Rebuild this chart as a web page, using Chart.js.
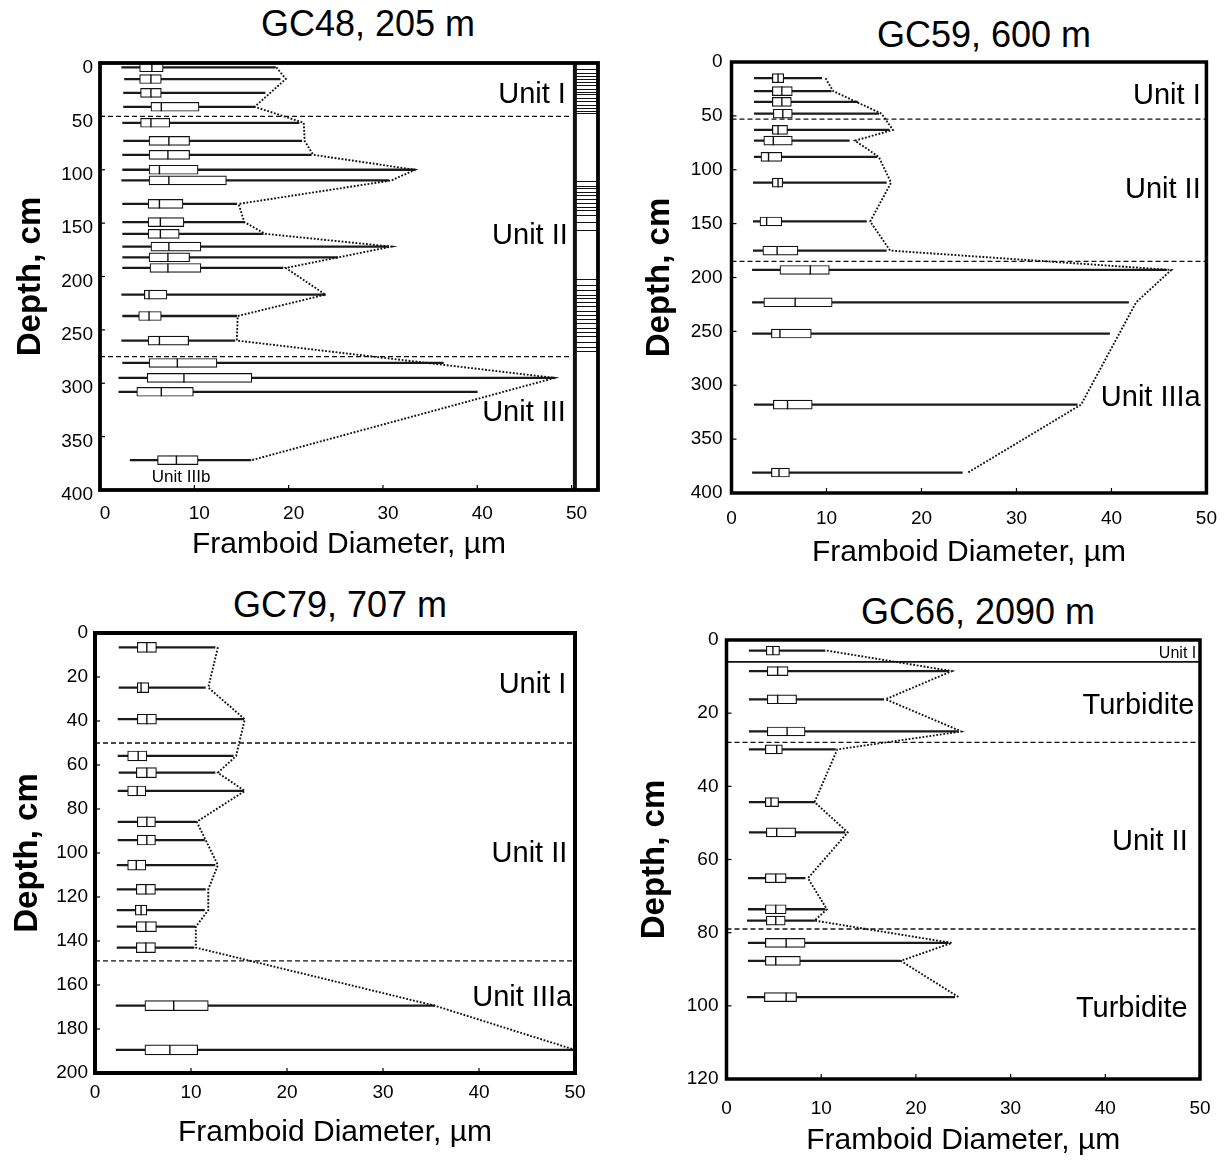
<!DOCTYPE html>
<html>
<head>
<meta charset="utf-8">
<script src="https://cdn.jsdelivr.net/npm/chart.js@4.4.1/dist/chart.umd.min.js"></script>
<style>
  body { margin: 0; background: #fff; width: 1231px; height: 1160px; position: relative; overflow: hidden;
         font-family: "Liberation Sans", Arial, sans-serif; }
  canvas { position: absolute; }
  .ttl { position: absolute; font-size: 36px; line-height: 36px; transform: translate(-50%, -50%);
         white-space: nowrap; color: #000; }
</style>
</head>
<body>
<div class="ttl" style="left:368px;top:24px">GC48, 205 m</div>
<div class="ttl" style="left:984px;top:35px">GC59, 600 m</div>
<div class="ttl" style="left:340px;top:605px">GC79, 707 m</div>
<div class="ttl" style="left:978px;top:612px">GC66, 2090 m</div>

<canvas id="gc48" width="615" height="575" style="left:0;top:0"></canvas>
<canvas id="gc59" width="611" height="575" style="left:620px;top:0"></canvas>
<canvas id="gc79" width="615" height="580" style="left:0;top:580px"></canvas>
<canvas id="gc66" width="611" height="580" style="left:620px;top:580px"></canvas>

<script>
// framboid diameter ticks, shared by all panels
const diamTicks = [0, 10, 20, 30, 40, 50];

// GC48, 205 m
const gc48Depth  = [4, 15, 28, 41, 56, 73, 86, 100, 110, 132, 149, 160, 172, 182, 192, 217, 237, 260, 281, 295, 308, 372];
const gc48Low    = [2.3, 2.6, 2.5, 2.5, 2.4, 2.5, 2.4, 2.4, 2.3, 2.4, 2.4, 2.4, 2.4, 2.4, 2.4, 2.3, 2.4, 2.3, 2.4, 2.0, 2.0, 3.2];
const gc48Q1     = [4.2, 4.2, 4.3, 5.4, 4.3, 5.2, 5.2, 5.2, 5.2, 5.1, 5.1, 5.1, 5.4, 5.2, 5.3, 4.7, 4.1, 5.1, 5.2, 5.0, 3.9, 6.1];
const gc48Median = [5.5, 5.4, 5.4, 6.5, 5.4, 7.3, 7.2, 6.3, 7.3, 6.3, 6.4, 6.4, 7.3, 7.2, 7.2, 5.2, 5.2, 6.3, 8.2, 8.9, 6.5, 8.1];
const gc48Q3     = [6.7, 6.5, 6.5, 10.5, 7.4, 9.5, 9.5, 10.4, 13.4, 8.8, 8.9, 8.4, 10.7, 9.5, 10.7, 7.1, 6.5, 9.4, 12.4, 16.1, 9.9, 10.4];
const gc48High   = [18.6, 19.1, 17.5, 16.4, 21.1, 21.4, 22.4, 33.4, 30.6, 14.5, 15.3, 17.3, 30.6, 25.2, 19.4, 23.9, 14.5, 14.3, 36.4, 48.2, 40.0, 16.0];
const gc48MaxDepth = [4, 15, 41, 56, 73, 86, 100, 110, 132, 149, 160, 172, 192, 217, 237, 260, 295, 372];
const gc48MaxVal   = [18.7, 19.7, 16.4, 21.6, 21.7, 22.6, 33.4, 30.9, 14.7, 15.3, 17.5, 30.9, 19.7, 23.9, 14.6, 14.5, 48.2, 16.1];
const gc48Units    = [50, 275];
const gc48Laminae  = [6, 9, 12, 15, 18, 21, 24, 27, 29, 33, 36, 39, 42, 45, 47,
                      111, 115, 117, 121, 124, 127, 131, 135, 138, 142, 149, 156,
                      202, 208, 213, 217, 220, 224, 228, 232, 236, 240, 244, 248, 252, 256, 261, 266, 270];
const gc48DepthTicks = [0, 50, 100, 150, 200, 250, 300, 350, 400];

// GC59, 600 m
const gc59Depth  = [15, 27, 37, 48, 63, 73, 88, 112, 148, 175, 193, 223, 252, 318, 381];
const gc59Low    = [2.4, 2.4, 2.4, 2.4, 2.4, 2.4, 2.4, 2.3, 2.3, 2.3, 2.2, 2.2, 2.2, 2.4, 2.2];
const gc59Q1     = [4.3, 4.3, 4.3, 4.4, 4.3, 3.4, 3.1, 4.3, 3.0, 3.3, 5.1, 3.4, 4.2, 4.4, 4.2];
const gc59Median = [4.9, 5.3, 5.3, 5.4, 4.9, 4.4, 3.9, 4.9, 3.7, 4.8, 8.3, 6.7, 5.1, 5.9, 5.0];
const gc59Q3     = [5.5, 6.4, 6.3, 6.4, 5.9, 6.4, 5.3, 5.4, 5.3, 7.0, 10.3, 10.6, 8.4, 8.5, 6.1];
const gc59High   = [9.5, 10.5, 13.3, 15.5, 16.6, 12.4, 15.3, 16.3, 14.2, 16.3, 45.8, 41.8, 39.8, 36.4, 24.3];
const gc59MaxDepth = [15, 27, 48, 63, 73, 88, 112, 148, 175, 193, 223, 318, 381];
const gc59MaxVal   = [9.9, 10.7, 15.8, 17.0, 13.0, 15.5, 16.8, 14.6, 16.7, 46.3, 42.6, 36.8, 24.9];
const gc59Units    = [53, 185];
const gc59DepthTicks = [0, 50, 100, 150, 200, 250, 300, 350, 400];

// GC79, 707 m
const gc79Depth  = [6.5, 24.8, 39.2, 55.9, 63.5, 71.8, 85.8, 94.1, 105.5, 116.5, 126, 133.5, 143, 169.4, 189.5];
const gc79Low    = [2.5, 2.5, 2.4, 2.4, 2.5, 2.4, 2.4, 2.4, 2.3, 2.3, 2.3, 2.3, 2.3, 2.2, 2.2];
const gc79Q1     = [4.4, 4.4, 4.4, 3.4, 4.3, 3.4, 4.4, 4.4, 3.4, 4.3, 4.2, 4.3, 4.3, 5.2, 5.2];
const gc79Median = [5.4, 4.8, 5.4, 4.5, 5.4, 4.4, 5.4, 5.4, 4.3, 5.3, 4.8, 5.3, 5.3, 8.2, 7.8];
const gc79Q3     = [6.4, 5.6, 6.4, 5.4, 6.4, 5.3, 6.3, 6.3, 5.3, 6.3, 5.4, 6.4, 6.3, 11.8, 10.7];
const gc79High   = [12.5, 11.5, 15.5, 14.4, 12.5, 15.5, 10.5, 11.4, 12.5, 11.5, 11.4, 10.4, 10.3, 35.4, 49.9];
const gc79MaxDepth = [6.5, 24.8, 39.2, 55.9, 63.5, 71.8, 85.8, 105.5, 116.5, 126, 133.5, 143, 169.4, 189.5];
const gc79MaxVal   = [12.8, 11.8, 15.6, 14.7, 12.8, 15.6, 10.6, 12.8, 11.8, 11.8, 10.5, 10.5, 35.4, 50];
const gc79Units    = [50, 149];
const gc79DepthTicks = [0, 20, 40, 60, 80, 100, 120, 140, 160, 180, 200];

// GC66, 2090 m
const gc66Depth  = [2.9, 8.5, 16.2, 25, 29.9, 44.3, 52.6, 65.1, 73.6, 76.7, 82.8, 87.7, 97.6];
const gc66Low    = [2.4, 2.4, 2.4, 2.4, 2.4, 2.4, 2.4, 2.3, 2.3, 2.2, 2.3, 2.3, 2.2];
const gc66Q1     = [4.2, 4.3, 4.3, 4.3, 4.1, 4.1, 4.2, 4.1, 4.1, 4.2, 4.1, 4.1, 4.0];
const gc66Median = [4.9, 5.4, 5.4, 6.4, 5.3, 4.7, 5.3, 5.2, 5.2, 5.2, 6.3, 5.2, 6.3];
const gc66Q3     = [5.6, 6.5, 7.4, 8.3, 5.9, 5.5, 7.3, 6.3, 6.3, 6.2, 8.3, 7.8, 7.4];
const gc66High   = [10.4, 23.4, 16.6, 24.3, 11.5, 9.3, 12.5, 8.3, 10.4, 9.3, 23.4, 18.3, 24.1];
const gc66MaxDepth = gc66Depth;
const gc66MaxVal   = [10.6, 23.8, 16.8, 24.8, 11.7, 9.3, 12.8, 8.6, 10.6, 9.3, 23.8, 18.4, 24.5];
const gc66Units    = [28, 79];
const gc66Solid    = [6];
const gc66DepthTicks = [0, 20, 40, 60, 80, 100, 120];

const FONT = '"Liberation Sans", Arial, sans-serif';
const INK = '#111';

// frame, inward ticks, unit labels and the lamination strip of GC48
const panelDecor = {
  id: 'panelDecor',
  afterDatasetsDraw(chart, args, opts) {
    const { ctx, chartArea: a, scales: { x, y } } = chart;
    ctx.save();

    if (opts.laminae) {
      const sx = x.getPixelForValue(opts.stripFrom);
      ctx.strokeStyle = INK;
      ctx.lineWidth = 1;
      opts.laminae.forEach(d => {
        const py = Math.round(y.getPixelForValue(d)) + 0.5;
        ctx.beginPath(); ctx.moveTo(sx, py); ctx.lineTo(a.right, py); ctx.stroke();
      });
      ctx.lineWidth = 4;
      ctx.beginPath(); ctx.moveTo(sx, a.top); ctx.lineTo(sx, a.bottom); ctx.stroke();
    }

    ctx.fillStyle = '#000';
    ctx.textBaseline = 'middle';
    (opts.notes || []).forEach(n => {
      ctx.font = n.size + 'px ' + FONT;
      ctx.textAlign = n.align || 'right';
      ctx.fillText(n.text, x.getPixelForValue(n.x), y.getPixelForValue(n.y));
    });

    ctx.strokeStyle = '#000';
    ctx.lineWidth = 1.2;
    x.ticks.forEach(t => {
      const px = x.getPixelForValue(t.value);
      ctx.beginPath(); ctx.moveTo(px, a.bottom); ctx.lineTo(px, a.bottom - 5); ctx.stroke();
    });
    y.ticks.forEach(t => {
      const py = y.getPixelForValue(t.value);
      ctx.beginPath(); ctx.moveTo(a.left, py); ctx.lineTo(a.left + 5, py); ctx.stroke();
    });

    ctx.lineWidth = opts.frame || 3.5;
    ctx.strokeRect(a.left, a.top, a.width, a.height);
    ctx.restore();
  }
};

function makePanel(id, p) {
  const whiskers = p.depth.map((d, i) => ({ y: d, x: [p.low[i], p.high[i]] }));
  const boxes = p.depth.map((d, i) => ({ y: d, x: [p.q1[i], p.q3[i]] }));
  const medians = p.depth.map((d, i) => ({ y: d, x: p.median[i] }));
  const maxima = p.maxDepth.map((d, i) => ({ y: d, x: p.maxVal[i] }));

  const bounds = p.units.map(d => ({
    type: 'line', data: [{ x: 0, y: d }, { x: 50, y: d }],
    borderColor: INK, borderWidth: 1.3, borderDash: [5, 3], pointRadius: 0, order: 4
  }));
  (p.solid || []).forEach(d => bounds.push({
    type: 'line', data: [{ x: 0, y: d }, { x: 50, y: d }],
    borderColor: INK, borderWidth: 1.8, pointRadius: 0, order: 4
  }));

  new Chart(document.getElementById(id), {
    type: 'bar',
    data: {
      datasets: [
        { type: 'bar', data: whiskers, barThickness: 1.6, backgroundColor: '#1a1a1a', grouped: false, order: 3 },
        { type: 'bar', data: boxes, barThickness: p.boxH, backgroundColor: '#fff', borderColor: INK,
          borderWidth: 1.2, borderSkipped: false, grouped: false, order: 1 },
        { type: 'scatter', data: medians, pointStyle: 'line', pointRotation: 90, pointRadius: p.boxH / 2,
          pointBorderColor: INK, pointBorderWidth: 1.4, order: 0 },
        { type: 'line', data: maxima, borderColor: '#111', borderWidth: 1.9, borderDash: [1.8, 1.7],
          pointRadius: 0, tension: 0, order: 2 },
        ...bounds
      ]
    },
    options: {
      responsive: false,
      animation: false,
      events: [],
      indexAxis: 'y',
      layout: { padding: { top: p.padTop, right: p.padRight, bottom: 0, left: 0 } },
      plugins: {
        legend: { display: false },
        tooltip: { enabled: false },
        panelDecor: { notes: p.notes, laminae: p.laminae, stripFrom: p.stripFrom, frame: p.frame }
      },
      scales: {
        x: {
          type: 'linear', position: 'bottom', min: 0, max: p.xMax,
          grid: { display: false, drawTicks: false }, border: { display: false },
          ticks: { padding: p.xTickPad, labelOffset: p.xShift || 0, color: '#000', maxRotation: 0,
                   font: { size: 19, family: FONT } },
          afterBuildTicks: s => { s.ticks = diamTicks.map(v => ({ value: v })); },
          afterFit: s => { s.height = p.xAxisH; },
          title: { display: true, text: 'Framboid Diameter, µm', color: '#000',
                   font: { size: 30, family: FONT }, padding: { top: 0, bottom: p.xTitlePad } }
        },
        y: {
          type: 'linear', position: 'left', reverse: true, offset: false, min: 0, max: p.yMax,
          grid: { display: false, drawTicks: false }, border: { display: false },
          ticks: { padding: p.yTickPad, labelOffset: p.yShift || 0, color: '#000',
                   font: { size: 19, family: FONT } },
          afterBuildTicks: s => { s.ticks = p.yTicks.map(v => ({ value: v })); },
          afterFit: s => { s.width = p.yAxisW; },
          title: { display: true, text: 'Depth, cm', color: '#000',
                   font: { size: 33, weight: 'bold', family: FONT }, padding: { top: p.yTitlePad, bottom: 0 } }
        }
      }
    },
    plugins: [panelDecor]
  });
}

makePanel('gc48', {
  depth: gc48Depth, low: gc48Low, q1: gc48Q1, median: gc48Median, q3: gc48Q3, high: gc48High,
  maxDepth: gc48MaxDepth, maxVal: gc48MaxVal, units: gc48Units, yTicks: gc48DepthTicks,
  laminae: gc48Laminae, stripFrom: 50.35,
  xMax: 52.8, yMax: 400, boxH: 9, frame: 3.8,
  padTop: 63, padRight: 17, yAxisW: 100, xAxisH: 85, xTitlePad: 12, yTitlePad: 11, yTickPad: 7,
  xTickPad: 12, xShift: 5, yShift: 5,
  notes: [
    { text: 'Unit I', x: 49.4, y: 30, size: 29 },
    { text: 'Unit II', x: 49.6, y: 162, size: 29 },
    { text: 'Unit III', x: 49.4, y: 328, size: 29 },
    { text: 'Unit IIIb', x: 8.6, y: 388, size: 17, align: 'center' }
  ]
});

makePanel('gc59', {
  depth: gc59Depth, low: gc59Low, q1: gc59Q1, median: gc59Median, q3: gc59Q3, high: gc59High,
  maxDepth: gc59MaxDepth, maxVal: gc59MaxVal, units: gc59Units, yTicks: gc59DepthTicks,
  xMax: 50, yMax: 400, boxH: 9,
  padTop: 62, padRight: 24, yAxisW: 111.5, xAxisH: 82, xTitlePad: 4, yTitlePad: 20, yTickPad: 9,
  xTickPad: 14,
  notes: [
    { text: 'Unit I', x: 49.4, y: 32, size: 29 },
    { text: 'Unit II', x: 49.4, y: 119, size: 29 },
    { text: 'Unit IIIa', x: 49.4, y: 312, size: 29 }
  ]
});

makePanel('gc79', {
  depth: gc79Depth, low: gc79Low, q1: gc79Q1, median: gc79Median, q3: gc79Q3, high: gc79High,
  maxDepth: gc79MaxDepth, maxVal: gc79MaxVal, units: gc79Units, yTicks: gc79DepthTicks,
  xMax: 50, yMax: 200, boxH: 10, frame: 4,
  padTop: 53, padRight: 40, yAxisW: 95, xAxisH: 87, xTitlePad: 9, yTitlePad: 8, yTickPad: 7,
  xTickPad: 8,
  notes: [
    { text: 'Unit I', x: 49.1, y: 23.6, size: 29 },
    { text: 'Unit II', x: 49.2, y: 100.5, size: 29 },
    { text: 'Unit IIIa', x: 49.7, y: 166, size: 29 }
  ]
});

makePanel('gc66', {
  depth: gc66Depth, low: gc66Low, q1: gc66Q1, median: gc66Median, q3: gc66Q3, high: gc66High,
  maxDepth: gc66MaxDepth, maxVal: gc66MaxVal, units: gc66Units, solid: gc66Solid, yTicks: gc66DepthTicks,
  xMax: 50, yMax: 120, boxH: 9,
  padTop: 60, padRight: 31, yAxisW: 106.5, xAxisH: 81, xTitlePad: 1, yTitlePad: 15, yTickPad: 8,
  xTickPad: 18,
  notes: [
    { text: 'Unit I', x: 49.6, y: 3.8, size: 16 },
    { text: 'Turbidite', x: 49.4, y: 18, size: 29 },
    { text: 'Unit II', x: 48.7, y: 55.2, size: 29 },
    { text: 'Turbidite', x: 48.7, y: 100.8, size: 29 }
  ]
});
</script>
</body>
</html>
